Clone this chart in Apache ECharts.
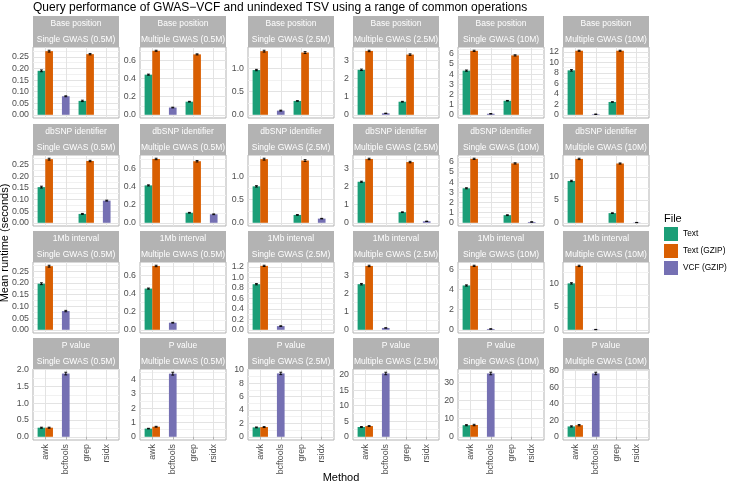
<!DOCTYPE html>
<html>
<head>
<meta charset="utf-8">
<script src="https://cdn.jsdelivr.net/npm/echarts@6/dist/echarts.min.js"></script>
<style>
  html, body { margin: 0; padding: 0; background: #fff; }
  #chart { width: 729px; height: 484px; }
</style>
</head>
<body>
<div id="chart"></div>
<script>
const methods = ['awk', 'bcftools', 'grep', 'rsidx'];
const queries = ['Base position', 'dbSNP identifier', '1Mb interval', 'P value'];
const datasets = ['Single GWAS (0.5M)', 'Multiple GWAS (0.5M)', 'Single GWAS (2.5M)',
  'Multiple GWAS (2.5M)', 'Single GWAS (10M)', 'Multiple GWAS (10M)'];
const files = ['Text', 'Text (GZIP)', 'VCF (GZIP)'];
const fileColors = ['#1B9E77', '#D95F02', '#7570B3'];

// one entry per dataset; Text / Text (GZIP) entries are [awk, grep], VCF (GZIP) entries are [bcftools, rsidx]
const baseText = [[0.19, 0.06], [0.445, 0.145], [0.97, 0.30], [2.48, 0.72], [4.35, 1.38], [8.5, 2.45]];
const baseGzip = [[0.275, 0.262], [0.71, 0.67], [1.38, 1.35], [3.52, 3.32], [6.3, 5.85], [12.25, 12.25]];
const baseVcf = [[0.08, null], [0.08, null], [0.09, null], [0.08, null], [0.1, null], [0.1, null]];
const baseTextSe = [[0.004, 0.003], [0.006, 0.004], [0.015, 0.006], [0.04, 0.02], [0.06, 0.03], [0.15, 0.05]];
const baseGzipSe = [[0.004, 0.003], [0.006, 0.006], [0.02, 0.02], [0.04, 0.04], [0.06, 0.06], [0.1, 0.1]];
const baseVcfSe = [[0.002, null], [0.004, null], [0.01, null], [0.01, null], [0.02, null], [0.05, null]];
const baseTicks = [
  ['0.00', '0.05', '0.10', '0.15', '0.20', '0.25'],
  ['0.0', '0.2', '0.4', '0.6'],
  ['0.0', '0.5', '1.0'],
  ['0', '1', '2', '3'],
  ['0', '1', '2', '3', '4', '5', '6'],
  ['0', '2', '4', '6', '8', '10', '12']
];

const dbsnpText = [[0.153, 0.038], [0.41, 0.11], [0.79, 0.17], [2.25, 0.58], [3.4, 0.75], [9.1, 2.1]];
const dbsnpGzip = [[0.273, 0.265], [0.70, 0.675], [1.38, 1.35], [3.5, 3.33], [6.3, 5.85], [13.9, 12.9]];
const dbsnpVcf = [[null, 0.095], [null, 0.093], [null, 0.09], [null, 0.08], [null, 0.08], [null, 0.05]];
const dbsnpTextSe = [[0.004, 0.002], [0.006, 0.004], [0.015, 0.008], [0.03, 0.02], [0.05, 0.04], [0.15, 0.08]];
const dbsnpGzipSe = [[0.004, 0.003], [0.008, 0.008], [0.02, 0.02], [0.04, 0.04], [0.06, 0.06], [0.15, 0.12]];
const dbsnpVcfSe = [[null, 0.002], [null, 0.004], [null, 0.006], [null, 0.01], [null, 0.015], [null, 0.03]];
const dbsnpTicks = [
  ['0.00', '0.05', '0.10', '0.15', '0.20', '0.25'],
  ['0.0', '0.2', '0.4', '0.6'],
  ['0.0', '0.5', '1.0'],
  ['0', '1', '2', '3'],
  ['0', '1', '2', '3', '4', '5', '6'],
  ['0', '5', '10']
];

const intervalText = [[0.197, null], [0.455, null], [0.87, null], [2.5, null], [4.4, null], [10.1, null]];
const intervalGzip = [[0.272, null], [0.705, null], [1.22, null], [3.5, null], [6.35, null], [13.9, null]];
const intervalVcf = [[0.08, null], [0.078, null], [0.07, null], [0.1, null], [0.08, null], [0.05, null]];
const intervalTextSe = [[0.004, null], [0.006, null], [0.012, null], [0.04, null], [0.06, null], [0.15, null]];
const intervalGzipSe = [[0.004, null], [0.008, null], [0.012, null], [0.04, null], [0.06, null], [0.15, null]];
const intervalVcfSe = [[0.003, null], [0.004, null], [0.006, null], [0.01, null], [0.02, null], [0.03, null]];
const intervalTicks = [
  ['0.00', '0.05', '0.10', '0.15', '0.20', '0.25'],
  ['0.0', '0.2', '0.4', '0.6'],
  ['0.0', '0.2', '0.4', '0.6', '0.8', '1.0', '1.2'],
  ['0', '1', '2', '3'],
  ['0', '2', '4', '6'],
  ['0', '5', '10']
];

const pvalText = [[0.27, null], [0.57, null], [1.4, null], [3.15, null], [6.4, null], [12.5, null]];
const pvalGzip = [[0.27, null], [0.70, null], [1.45, null], [3.45, null], [6.5, null], [14.0, null]];
const pvalVcf = [[1.88, null], [4.4, null], [9.45, null], [20.4, null], [35.0, null], [76.5, null]];
const pvalTextSe = [[0.015, null], [0.02, null], [0.06, null], [0.15, null], [0.3, null], [0.7, null]];
const pvalGzipSe = [[0.015, null], [0.03, null], [0.07, null], [0.15, null], [0.4, null], [0.8, null]];
const pvalVcfSe = [[0.04, null], [0.1, null], [0.18, null], [0.4, null], [0.7, null], [1.5, null]];
const pvalTicks = [
  ['0.0', '0.5', '1.0', '1.5', '2.0'],
  ['0', '1', '2', '3', '4'],
  ['0', '2', '4', '6', '8', '10'],
  ['0', '5', '10', '15', '20'],
  ['0', '10', '20', '30'],
  ['0', '20', '40', '60', '80']
];

const rows = [
  { vals: [baseText, baseGzip, baseVcf], se: [baseTextSe, baseGzipSe, baseVcfSe], ticks: baseTicks },
  { vals: [dbsnpText, dbsnpGzip, dbsnpVcf], se: [dbsnpTextSe, dbsnpGzipSe, dbsnpVcfSe], ticks: dbsnpTicks },
  { vals: [intervalText, intervalGzip, intervalVcf], se: [intervalTextSe, intervalGzipSe, intervalVcfSe], ticks: intervalTicks },
  { vals: [pvalText, pvalGzip, pvalVcf], se: [pvalTextSe, pvalGzipSe, pvalVcfSe], ticks: pvalTicks }
];

// layout
const FONT = 'Liberation Sans, Arial, Helvetica, sans-serif';
const colLeft = [33, 140, 248, 353, 458, 563];
const rowTop = [47, 155, 262, 369];
const PW = 86, PH = 71, STRIP = 31;
const BAR_W = 0.375;
// methods that each file's two values belong to (1-based positions on the x scale)
const fileSlots = [[1, 3], [1, 3], [2, 4]];
const fileShift = [-BAR_W / 2, BAR_W / 2, 0];

const chart = echarts.init(document.getElementById('chart'));

function renderBar(params, api) {
  const x = api.value(0), y = api.value(1);
  const top = api.coord([x, y]);
  const base = api.coord([x, 0]);
  const w = api.size([BAR_W, 0])[0];
  return {
    type: 'rect',
    shape: { x: top[0] - w / 2, y: top[1], width: w, height: base[1] - top[1] },
    style: { fill: api.visual('color') }
  };
}

function renderErr(params, api) {
  const x = api.value(0), y = api.value(1), e = api.value(2);
  const hi = api.coord([x, y + e]);
  const lo = api.coord([x, y - e]);
  const cap = api.size([0.07, 0])[0];
  const st = { stroke: '#000', lineWidth: 0.9 };
  return {
    type: 'group',
    children: [
      { type: 'line', shape: { x1: hi[0], y1: hi[1], x2: lo[0], y2: lo[1] }, style: st },
      { type: 'line', shape: { x1: hi[0] - cap, y1: hi[1], x2: hi[0] + cap, y2: hi[1] }, style: st },
      { type: 'line', shape: { x1: lo[0] - cap, y1: lo[1], x2: lo[0] + cap, y2: lo[1] }, style: st }
    ]
  };
}

const grid = [], xAxis = [], yAxis = [], series = [], graphic = [];

rows.forEach((row, r) => {
  datasets.forEach((ds, c) => {
    const i = r * 6 + c;
    grid.push({
      left: colLeft[c], top: rowTop[r], width: PW, height: PH,
      show: true, borderColor: '#B3B3B3', borderWidth: 1, backgroundColor: '#fff'
    });

    const errData = [];
    let top = 0;
    files.forEach((f, k) => {
      const data = [];
      row.vals[k][c].forEach((v, j) => {
        if (v == null) return;
        const x = fileSlots[k][j] + fileShift[k];
        const e = row.se[k][c][j] || 0;
        data.push([x, v]);
        errData.push([x, v, e]);
        top = Math.max(top, v + e);
      });
      series.push({
        type: 'custom', name: f, xAxisIndex: i, yAxisIndex: i,
        itemStyle: { color: fileColors[k] }, renderItem: renderBar, data: data,
        silent: true
      });
    });
    series.push({
      type: 'custom', name: 'se', xAxisIndex: i, yAxisIndex: i, z: 3,
      renderItem: renderErr, data: errData, silent: true
    });

    const labels = row.ticks[c];
    const majors = labels.map(Number);
    const ymin = -0.05 * top, ymax = 1.05 * top;
    const step = majors[1] - majors[0];
    const lines = [];
    majors.forEach(m => {
      lines.push(m);
      if (m + step / 2 <= ymax) lines.push(m + step / 2);
    });

    xAxis.push({
      type: 'value', gridIndex: i, min: 0.4, max: 4.6,
      axisLine: { show: false },
      axisTick: { show: r === 3, customValues: [1, 2, 3, 4], length: 3, lineStyle: { color: '#B3B3B3' } },
      axisLabel: {
        show: r === 3, customValues: [1, 2, 3, 4], rotate: 90, margin: 4,
        fontSize: 8.8, color: '#4D4D4D', fontFamily: FONT,
        formatter: v => methods[Math.round(v) - 1]
      },
      splitLine: { show: true, lineStyle: { color: '#E3E3E3', width: 1 } }
    });
    yAxis.push({
      type: 'value', gridIndex: i, min: ymin, max: ymax,
      axisLine: { show: false },
      axisTick: { show: false, customValues: lines },
      axisLabel: {
        customValues: majors, margin: 4, fontSize: 8.8, color: '#4D4D4D', fontFamily: FONT,
        formatter: v => {
          const k = majors.findIndex(m => Math.abs(m - v) < 1e-9);
          return k >= 0 ? labels[k] : '';
        }
      },
      splitLine: { show: true, lineStyle: { color: ['#E3E3E3', '#F1F1F1'], width: 1 } }
    });

    // facet strips
    graphic.push({
      type: 'rect', silent: true,
      shape: { x: colLeft[c], y: rowTop[r] - STRIP, width: PW, height: STRIP },
      style: { fill: '#B3B3B3' }
    });
    graphic.push({
      type: 'text', silent: true, x: colLeft[c] + PW / 2, y: rowTop[r] - STRIP * 0.75,
      style: { text: queries[r], fill: '#fff', font: '8.5px ' + FONT, align: 'center', verticalAlign: 'middle' }
    });
    graphic.push({
      type: 'text', silent: true, x: colLeft[c] + PW / 2, y: rowTop[r] - STRIP * 0.25,
      style: { text: ds, fill: '#fff', font: '8.5px ' + FONT, align: 'center', verticalAlign: 'middle' }
    });
  });
});

graphic.push({
  type: 'text', silent: true, x: 33, y: 8,
  style: {
    text: 'Query performance of GWAS\u2212VCF and unindexed TSV using a range of common operations',
    fill: '#000', font: '12px ' + FONT, align: 'left', verticalAlign: 'middle'
  }
});
graphic.push({
  type: 'text', silent: true, x: 5, y: 243, rotation: Math.PI / 2,
  style: { text: 'Mean runtime (seconds)', fill: '#000', font: '11px ' + FONT, align: 'center', verticalAlign: 'middle' }
});
graphic.push({
  type: 'text', silent: true, x: 341, y: 478,
  style: { text: 'Method', fill: '#000', font: '11px ' + FONT, align: 'center', verticalAlign: 'middle' }
});
graphic.push({
  type: 'text', silent: true, x: 664, y: 219,
  style: { text: 'File', fill: '#000', font: '11px ' + FONT, align: 'left', verticalAlign: 'middle' }
});

chart.setOption({
  animation: false,
  textStyle: { fontFamily: FONT },
  grid: grid,
  xAxis: xAxis,
  yAxis: yAxis,
  series: series,
  graphic: graphic,
  legend: {
    orient: 'vertical', left: 664, top: 227, padding: 0,
    itemWidth: 14, itemHeight: 14, itemGap: 3, icon: 'rect',
    selectedMode: false, data: files,
    textStyle: { fontSize: 8.3, color: '#000', fontFamily: FONT }
  }
});
</script>
</body>
</html>
